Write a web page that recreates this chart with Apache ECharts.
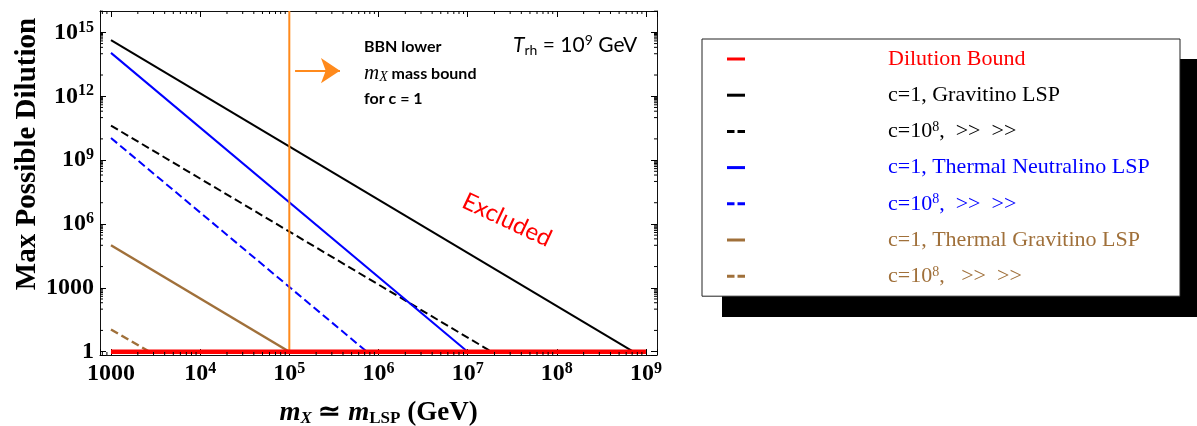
<!DOCTYPE html>
<html><head><meta charset="utf-8">
<script src="https://cdn.jsdelivr.net/npm/echarts@6/dist/echarts.min.js"></script>
<style>html,body{margin:0;padding:0;background:#fff}#c{width:1197px;height:426px}</style>
</head><body><div id="c"></div>
<script>
// ---- data ----
const X_TICKS = [1e3, 1e4, 1e5, 1e6, 1e7, 1e8, 1e9];
const X_TICK_LABELS = ['1000', '10^4', '10^5', '10^6', '10^7', '10^8', '10^9'];
const Y_TICKS = [1, 1e3, 1e6, 1e9, 1e12, 1e15];
const Y_TICK_LABELS = ['1', '1000', '10^6', '10^9', '10^12', '10^15'];
const X_RANGE = [753, 1.33e9];
const Y_RANGE = [0.70, 1.02e16];

const dilutionBound = [[1e3, 1], [1e9, 1]];
const gravitinoC1 = [[1e3, 4.4e14], [7.2e8, 1]];
const gravitinoC8 = [[1e3, 4.2e10], [1.85e7, 1]];
const neutralinoC1 = [[1e3, 1.1e14], [1.0e7, 1]];
const neutralinoC8 = [[1e3, 1.1e10], [7.4e5, 1]];
const thermGravC1 = [[1e3, 1.0e5], [1.0e5, 1]];
const thermGravC8 = [[1e3, 11], [2.7e3, 1]];
const bbnBound = [[1e5, 1], [1e5, 1.02e16]];
const bbnArrow = [[1.16e5, 1.6e13], [3.7e5, 1.6e13]];

const SERIES_NAMES = ['Dilution Bound', 'c=1, Gravitino LSP', 'c=1e8, Gravitino LSP',
  'c=1, Thermal Neutralino LSP', 'c=1e8, Thermal Neutralino LSP',
  'c=1, Thermal Gravitino LSP', 'c=1e8, Thermal Gravitino LSP'];
const LEGEND_LABELS = ['Dilution Bound', 'c=1, Gravitino LSP', 'c=10^8,  >>  >>',
  'c=1, Thermal Neutralino LSP', 'c=10^8,  >>  >>', 'c=1, Thermal Gravitino LSP', 'c=10^8,   >>  >>'];
const LEGEND_DASHED = [false, false, true, false, true, false, true];

// minor tick positions (log decades × 2..9)
const MINOR_MULTS = [2, 3, 4, 5, 6, 7, 8, 9];
const X_MINOR_DECADES = [1e2, 1e3, 1e4, 1e5, 1e6, 1e7, 1e8];
const Y_MINOR_SINGLE = [10, 100, 1e4, 1e5, 1e7, 1e8, 1e10, 1e11, 1e13, 1e14, 1e16];
const Y_MINOR_DECADES = [100, 1e5, 1e8, 1e11, 1e14];

// ---- styles ----
const SERIF = 'Liberation Serif';
const SANS = 'Lato';
const RED = '#FF0000', BLACK = '#000000', BLUE = '#0000FF', BROWN = '#A0703A', ORANGE = '#FF8A1C';
const COLORS = [RED, BLACK, BLACK, BLUE, BLUE, BROWN, BROWN];
const DASH = [8, 4];
const ICON_SOLID = 'path://M0,0H18V3H0Z';
const ICON_DASH = 'path://M0,0H7.5V3H0Z M10.5,0H18V3H10.5Z';

function supLabel(s) {
  if (s.indexOf('^') < 0) return '{b|' + s + '}';
  const p = s.split('^');
  return '{b|' + p[0] + '}{s|' + p[1] + '}';
}
function tickFormatter(ticks, labels) {
  return function (v) {
    for (let i = 0; i < ticks.length; i++) {
      if (Math.abs(Math.log10(v) - Math.log10(ticks[i])) < 1e-6) return supLabel(labels[i]);
    }
    return '';
  };
}
const labelRich = {
  b: { fontFamily: SERIF, fontWeight: 'bold', fontSize: 24, lineHeight: 26, color: '#000' },
  s: { fontFamily: SERIF, fontWeight: 'bold', fontSize: 16, lineHeight: 16, verticalAlign: 'top', color: '#000' }
};

const xMinor = [];
X_MINOR_DECADES.forEach(d => MINOR_MULTS.forEach(m => {
  const v = d * m; if (v > X_RANGE[0] && v < X_RANGE[1]) xMinor.push([v, 1]);
}));
const yMinor = Y_MINOR_SINGLE.filter(v => v < Y_RANGE[1]).map(v => [1e3, v]);
Y_MINOR_DECADES.forEach(d => MINOR_MULTS.forEach(m => yMinor.push([1e3, d * m])));

function minorTicks(data, dir) {
  return {
    type: 'custom', silent: true, z: 6, clip: false, data: data,
    renderItem: function (params, api) {
      const cs = params.coordSys;
      const p = api.coord([api.value(0), api.value(1)]);
      const L = 3, st = { stroke: '#000', lineWidth: 1 };
      if (dir === 'x') {
        const b = cs.y + cs.height;
        return { type: 'group', children: [
          { type: 'line', shape: { x1: p[0], y1: b, x2: p[0], y2: b - L }, style: st },
          { type: 'line', shape: { x1: p[0], y1: cs.y, x2: p[0], y2: cs.y + L }, style: st }] };
      }
      const r = cs.x + cs.width;
      return { type: 'group', children: [
        { type: 'line', shape: { x1: cs.x, y1: p[1], x2: cs.x + L, y2: p[1] }, style: st },
        { type: 'line', shape: { x1: r, y1: p[1], x2: r - L, y2: p[1] }, style: st }] };
    }
  };
}

function lineSeries(name, data, color, width, type, z) {
  return { name: name, type: 'line', data: data, symbol: 'none', showSymbol: false, silent: true,
    lineStyle: { color: color, width: width, type: type }, itemStyle: { color: color }, z: z || 3, animation: false };
}

const axisCommon = {
  axisLine: { show: true, lineStyle: { color: '#111', width: 1 } },
  axisTick: { show: true, inside: true, length: 6, lineStyle: { color: '#000', width: 1 } },
  splitLine: { show: false }
};

const chart = echarts.init(document.getElementById('c'));
chart.setOption({
  animation: false,
  backgroundColor: '#fff',
  grid: { left: 100, top: 11, right: 540, bottom: 71, containLabel: false, outerBoundsMode: 'none' },
  xAxis: [
    Object.assign({ type: 'log', logBase: 10, min: X_RANGE[0], max: X_RANGE[1], position: 'bottom',
      axisLabel: { formatter: tickFormatter(X_TICKS, X_TICK_LABELS), margin: 6, rich: labelRich },
      name: '{m|m}{x|X}{n| ≃ }{m|m}{l|LSP}{n| (GeV)}', nameLocation: 'middle', nameGap: 45,
      nameTextStyle: { rich: {
        m: { fontFamily: SERIF, fontWeight: 'bold', fontStyle: 'italic', fontSize: 27, color: '#000' },
        x: { fontFamily: SERIF, fontWeight: 'bold', fontStyle: 'italic', fontSize: 17, verticalAlign: 'bottom', color: '#000' },
        l: { fontFamily: SERIF, fontWeight: 'bold', fontSize: 17, verticalAlign: 'bottom', color: '#000' },
        n: { fontFamily: SERIF, fontWeight: 'bold', fontSize: 27, color: '#000' } } } }, axisCommon),
    Object.assign({ type: 'log', logBase: 10, min: X_RANGE[0], max: X_RANGE[1], position: 'top',
      axisLabel: { show: false } }, axisCommon)
  ],
  yAxis: [
    Object.assign({ type: 'log', logBase: 1000, min: Y_RANGE[0], max: Y_RANGE[1], position: 'left',
      axisLabel: { formatter: tickFormatter(Y_TICKS, Y_TICK_LABELS), margin: 6, rich: labelRich },
      name: 'Max Possible Dilution', nameLocation: 'middle', nameGap: 58, nameRotate: 90,
      nameTextStyle: { fontFamily: SERIF, fontWeight: 'bold', fontSize: 29, color: '#000', padding: [0, 0, 0, 58] } }, axisCommon),
    Object.assign({ type: 'log', logBase: 1000, min: Y_RANGE[0], max: Y_RANGE[1], position: 'right',
      axisLabel: { show: false } }, axisCommon)
  ],
  legend: {
    orient: 'vertical', left: 702, top: 39, padding: [9, 0, 9, 25],
    itemGap: 14.2, itemWidth: 18, itemHeight: 3, selectedMode: false, z: 10,
    backgroundColor: '#fff', borderColor: '#222', borderWidth: 1,
    data: SERIES_NAMES.map((n, i) => ({ name: n, icon: LEGEND_DASHED[i] ? ICON_DASH : ICON_SOLID,
      itemStyle: { color: COLORS[i] }, textStyle: { color: COLORS[i] } })),
    formatter: function (name) {
      const lab = LEGEND_LABELS[SERIES_NAMES.indexOf(name)];
      if (lab.indexOf('^') < 0) return '{t0|' + lab + '}';
      const a = lab.split('^');
      return '{t0|' + a[0] + '}{s|' + a[1].charAt(0) + '}{t|' + a[1].slice(1) + '}';
    },
    textStyle: { fontFamily: SERIF, fontSize: 22, lineHeight: 22, width: 430,
      rich: {
        t0: { fontFamily: SERIF, fontSize: 22, lineHeight: 22, padding: [0, 0, 0, 138] },
        t: { fontFamily: SERIF, fontSize: 22, lineHeight: 22 },
        s: { fontFamily: SERIF, fontSize: 14, lineHeight: 14, verticalAlign: 'top' }
      } }
  },
  series: [
    lineSeries(SERIES_NAMES[1], gravitinoC1, BLACK, 2, 'solid'),
    lineSeries(SERIES_NAMES[2], gravitinoC8, BLACK, 2, DASH),
    lineSeries(SERIES_NAMES[3], neutralinoC1, BLUE, 2, 'solid'),
    lineSeries(SERIES_NAMES[4], neutralinoC8, BLUE, 2, DASH),
    lineSeries(SERIES_NAMES[5], thermGravC1, BROWN, 2.5, 'solid'),
    lineSeries(SERIES_NAMES[6], thermGravC8, BROWN, 2.5, DASH),
    lineSeries('BBN bound', bbnBound, ORANGE, 2, 'solid', 4),
    lineSeries(SERIES_NAMES[0], dilutionBound, RED, 4.5, 'solid', 5),
    { type: 'lines', coordinateSystem: 'cartesian2d', silent: true, z: 4,
      symbol: ['none', 'arrow'], symbolSize: 19,
      lineStyle: { color: ORANGE, width: 2, opacity: 1 },
      data: [{ coords: bbnArrow }] },
    minorTicks(xMinor, 'x'),
    minorTicks(yMinor, 'y')
  ],
  graphic: [
    { type: 'rect', left: 722, top: 59, z: 1, shape: { width: 478, height: 258 }, style: { fill: '#000' } },
    { type: 'text', left: 364, top: 39, style: { text: 'BBN lower', font: 'bold 16px ' + SANS, fill: '#000' } },
    { type: 'text', left: 364, top: 63, style: { text: '{m|m}{x|X}{b| mass bound}', fill: '#000',
      rich: { m: { fontFamily: SERIF, fontStyle: 'italic', fontSize: 21, lineHeight: 21 },
              x: { fontFamily: SERIF, fontStyle: 'italic', fontSize: 14, verticalAlign: 'bottom', lineHeight: 14 },
              b: { fontFamily: SANS, fontWeight: 'bold', fontSize: 16, lineHeight: 21 } } } },
    { type: 'text', left: 364, top: 91, style: { text: 'for c = 1', font: 'bold 16px ' + SANS, fill: '#000' } },
    { type: 'text', left: 513, top: 33, style: { text: '{i|T}{sub|rh}{n| = 10}{sup|9}{n| GeV}', fill: '#000',
      rich: { i: { fontFamily: SANS, fontStyle: 'italic', fontSize: 21, lineHeight: 24 },
              sub: { fontFamily: SANS, fontSize: 14, verticalAlign: 'bottom', lineHeight: 14 },
              n: { fontFamily: SANS, fontSize: 21, lineHeight: 24 },
              sup: { fontFamily: SANS, fontSize: 14, verticalAlign: 'top', lineHeight: 14 } } } },
    { type: 'text', x: 507, y: 220, rotation: -0.44, style: { text: 'Excluded', font: '24px ' + SANS,
      fill: RED, align: 'center', verticalAlign: 'middle' } }
  ]
});
</script></body></html>
